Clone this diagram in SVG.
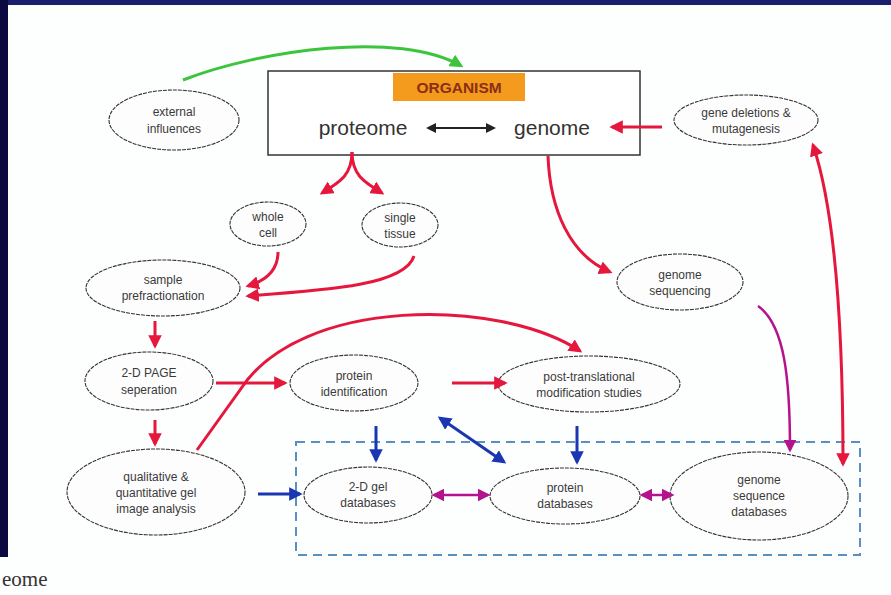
<svg xmlns="http://www.w3.org/2000/svg" width="891" height="595" viewBox="0 0 891 595">
<defs>
<style>
.n ellipse{fill:#fdfdfd;stroke:#333;stroke-width:1.1;stroke-dasharray:4 1}
.n text{font-family:"Liberation Sans",Arial,sans-serif;font-size:12px;fill:#3a3a3a;text-anchor:middle}
.red{stroke:#e5173c;stroke-width:3;fill:none}
.blue{stroke:#1a36b0;stroke-width:3;fill:none}
.mag{stroke:#b5128e;stroke-width:2.5;fill:none}
.grn{stroke:#3cc43c;stroke-width:3;fill:none}
.blk{stroke:#222;stroke-width:2;fill:none}
</style>
<marker id="ar" viewBox="0 0 10 10" refX="8" refY="5" markerWidth="4.5" markerHeight="4.5" orient="auto-start-reverse" markerUnits="strokeWidth"><path d="M0,0 L10,5 L0,10 z" fill="#e5173c"/></marker>
<marker id="ab" viewBox="0 0 10 10" refX="8" refY="5" markerWidth="4.5" markerHeight="4.5" orient="auto-start-reverse" markerUnits="strokeWidth"><path d="M0,0 L10,5 L0,10 z" fill="#1a36b0"/></marker>
<marker id="am" viewBox="0 0 10 10" refX="8" refY="5" markerWidth="5" markerHeight="5" orient="auto-start-reverse" markerUnits="strokeWidth"><path d="M0,0 L10,5 L0,10 z" fill="#b5128e"/></marker>
<marker id="ag" viewBox="0 0 10 10" refX="8" refY="5" markerWidth="4.5" markerHeight="4.5" orient="auto-start-reverse" markerUnits="strokeWidth"><path d="M0,0 L10,5 L0,10 z" fill="#3cc43c"/></marker>
<marker id="ak" viewBox="0 0 10 10" refX="8" refY="5" markerWidth="5" markerHeight="5" orient="auto-start-reverse" markerUnits="strokeWidth"><path d="M0,0 L10,5 L0,10 z" fill="#222"/></marker>
</defs>
<rect width="891" height="595" fill="#fdfefe"/>
<rect x="0" y="0" width="891" height="5" fill="#1c1e6e"/>
<rect x="0" y="0" width="8" height="557" fill="#0a0a40"/>
<text x="2" y="586" font-family="Liberation Serif,serif" font-size="21" fill="#333">eome</text>

<g id="organism">
<rect x="268" y="71" width="372" height="84" fill="#fff" stroke="#333" stroke-width="1.5"/>
<rect x="393" y="73" width="132" height="28" fill="#f49a1c"/>
<text x="459" y="93" font-family="Liberation Sans,Arial,sans-serif" font-size="15.5" font-weight="bold" fill="#8a2e18" text-anchor="middle">ORGANISM</text>
<text x="363" y="135" font-family="Liberation Sans,Arial,sans-serif" font-size="21" fill="#333" text-anchor="middle">proteome</text>
<text x="552" y="135" font-family="Liberation Sans,Arial,sans-serif" font-size="21" fill="#333" text-anchor="middle">genome</text>
</g>

<g id="external" class="n"><ellipse cx="174" cy="120" rx="65" ry="30"/><text x="174" y="116">external</text><text x="174" y="133">influences</text></g>
<g id="genedel" class="n"><ellipse cx="746" cy="120" rx="72" ry="25"/><text x="746" y="117">gene deletions &amp;</text><text x="746" y="133">mutagenesis</text></g>
<g id="whole" class="n"><ellipse cx="268" cy="224" rx="38" ry="22"/><text x="268" y="221">whole</text><text x="268" y="237">cell</text></g>
<g id="single" class="n"><ellipse cx="400" cy="225" rx="38" ry="22"/><text x="400" y="222">single</text><text x="400" y="238">tissue</text></g>
<g id="sample" class="n"><ellipse cx="163" cy="288" rx="77" ry="28"/><text x="163" y="284">sample</text><text x="163" y="300">prefractionation</text></g>
<g id="genseq" class="n"><ellipse cx="680" cy="282" rx="63" ry="28"/><text x="680" y="279">genome</text><text x="680" y="295">sequencing</text></g>
<g id="page" class="n"><ellipse cx="149" cy="381" rx="64" ry="29"/><text x="149" y="377">2-D PAGE</text><text x="149" y="394">seperation</text></g>
<g id="protid" class="n"><ellipse cx="354" cy="383" rx="64" ry="28"/><text x="354" y="380">protein</text><text x="354" y="396">identification</text></g>
<g id="ptm" class="n"><ellipse cx="589" cy="384" rx="91" ry="28"/><text x="589" y="381">post-translational</text><text x="589" y="397">modification studies</text></g>
<g id="qual" class="n"><ellipse cx="156" cy="492" rx="89" ry="43"/><text x="156" y="481">qualitative &amp;</text><text x="156" y="497">quantitative gel</text><text x="156" y="513">image analysis</text></g>

<rect id="dbbox" x="296" y="442" width="564" height="113" fill="none" stroke="#5a8fc4" stroke-width="2" stroke-dasharray="9 6"/>
<g id="gel" class="n"><ellipse cx="368" cy="495" rx="64" ry="28"/><text x="368" y="491">2-D gel</text><text x="368" y="507">databases</text></g>
<g id="protdb" class="n"><ellipse cx="565" cy="496" rx="75" ry="28"/><text x="565" y="492">protein</text><text x="565" y="508">databases</text></g>
<g id="gsdb" class="n"><ellipse cx="759" cy="496" rx="89" ry="44"/><text x="759" y="484">genome</text><text x="759" y="500">sequence</text><text x="759" y="516">databases</text></g>

<g id="connectors">
<path class="grn" d="M183,80 C260,50 400,30 461,66" marker-end="url(#ag)"/>
<line class="blk" x1="428" y1="128" x2="494" y2="128" marker-start="url(#ak)" marker-end="url(#ak)"/>
<line class="red" x1="662" y1="127" x2="612" y2="127" marker-end="url(#ar)"/>
<path class="red" d="M352,152 C352,175 340,182 322,193" marker-end="url(#ar)"/>
<path class="red" d="M352,152 C352,175 364,182 382,193" marker-end="url(#ar)"/>
<path class="red" d="M548,156 C550,210 570,255 610,272" marker-end="url(#ar)"/>
<path class="red" d="M278,252 C278,268 268,280 248,286" marker-end="url(#ar)"/>
<path class="red" d="M414,256 C405,285 330,290 248,296" marker-end="url(#ar)"/>
<line class="red" x1="155" y1="321" x2="155" y2="346" marker-end="url(#ar)"/>
<line class="red" x1="216" y1="383" x2="285" y2="383" marker-end="url(#ar)"/>
<line class="red" x1="452" y1="383" x2="505" y2="383" marker-end="url(#ar)"/>
<line class="red" x1="155" y1="420" x2="155" y2="444" marker-end="url(#ar)"/>
<path class="red" d="M197,450 L240,390 C300,296 500,298 580,351" marker-end="url(#ar)"/>
<line class="blue" x1="258" y1="494" x2="300" y2="494" marker-end="url(#ab)"/>
<line class="blue" x1="376" y1="426" x2="376" y2="460" marker-end="url(#ab)"/>
<line class="blue" x1="577" y1="426" x2="577" y2="462" marker-end="url(#ab)"/>
<line class="blue" x1="440" y1="418" x2="504" y2="462" marker-start="url(#ab)" marker-end="url(#ab)"/>
<line class="mag" x1="434" y1="495" x2="488" y2="495" marker-start="url(#am)" marker-end="url(#am)"/>
<line class="mag" x1="642" y1="495" x2="672" y2="495" marker-start="url(#am)" marker-end="url(#am)"/>
<path class="mag" d="M758,306 C785,325 790,380 790,450" marker-end="url(#am)"/>
<path class="red" d="M813,145 C835,210 843,330 843,464" marker-start="url(#ar)" marker-end="url(#ar)"/>
</g>
</svg>
